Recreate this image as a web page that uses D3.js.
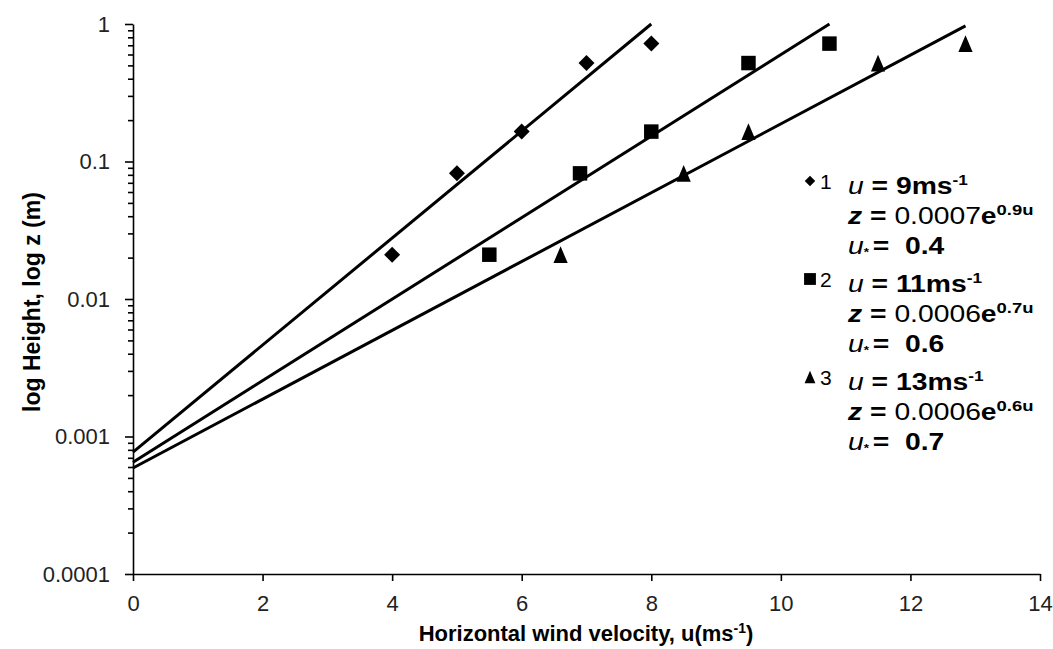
<!DOCTYPE html>
<html><head><meta charset="utf-8">
<script src="https://cdn.jsdelivr.net/npm/d3@7/dist/d3.min.js"></script>
<style>
html,body{margin:0;padding:0;background:#fff;}
svg{display:block;font-family:"Liberation Sans",Arial,sans-serif;}
</style></head>
<body>
<svg id="chart" width="1053" height="649"></svg>
<script>
// ---- data ----
const xTicks = [0, 2, 4, 6, 8, 10, 12, 14];
const yTicks = [0.0001, 0.001, 0.01, 0.1, 1];
const yTickLabels = ["0.0001", "0.001", "0.01", "0.1", "1"];

const series1U = [4, 5, 6, 7, 8];
const series1Z = [0.021, 0.082, 0.165, 0.52, 0.72];
const series2U = [5.5, 6.9, 8, 9.5, 10.75];
const series2Z = [0.021, 0.082, 0.165, 0.52, 0.72];
const series3U = [6.6, 8.5, 9.5, 11.5, 12.85];
const series3Z = [0.021, 0.082, 0.165, 0.52, 0.72];

// fitted exponential lines (straight on log axis): endpoints
const fit1U = [0, 8.0],   fit1Z = [0.00077, 1.0];
const fit2U = [0, 10.75], fit2Z = [0.00065, 1.0];
const fit3U = [0, 12.85], fit3Z = [0.00059, 0.97];

const legendIds = ["1", "2", "3"];
const legendSpeed = ["9", "11", "13"];
const legendCoef = ["0.0007", "0.0006", "0.0006"];
const legendExp = ["0.9u", "0.7u", "0.6u"];
const legendUstar = ["0.4", "0.6", "0.7"];

// ---- drawing ----
const svg = d3.select("#chart");
const x = d3.scaleLinear().domain([0, 14]).range([133, 1040]);
const y = d3.scaleLog().domain([1e-4, 1]).range([574, 24]);

// custom symbols centred on bounding box
const diamond = { draw(ctx, size) { const h = Math.sqrt(size) / 2; ctx.moveTo(0, -h); ctx.lineTo(h, 0); ctx.lineTo(0, h); ctx.lineTo(-h, 0); ctx.closePath(); } };
const square = { draw(ctx, size) { const h = Math.sqrt(size) / 2; ctx.rect(-h, -h, 2 * h, 2 * h); } };
const triangle = { draw(ctx, size) { const h = Math.sqrt(size) / 2; const w = h * 0.85; ctx.moveTo(0, -h); ctx.lineTo(w, h); ctx.lineTo(-w, h); ctx.closePath(); } };

// axes
const xAxis = d3.axisBottom(x).tickValues(xTicks).tickSize(7).tickSizeOuter(0).tickPadding(14).tickFormat(d3.format("d"));
const gx = svg.append("g").attr("transform", "translate(0,574)").call(xAxis);
gx.selectAll("text").attr("font-size", 22).attr("fill", "#222").attr("font-family", "Liberation Sans, Arial, sans-serif");

const minor = [];
for (let e = -4; e < 0; e++) for (let m = 2; m <= 9; m++) minor.push(m * Math.pow(10, e));
const gyMinor = svg.append("g").attr("transform", "translate(133,0)")
  .call(d3.axisLeft(y).tickValues(minor).tickSize(5).tickSizeOuter(0).tickFormat(""));
gyMinor.select(".domain").remove();

const yAxis = d3.axisLeft(y).tickValues(yTicks).tickSize(8).tickSizeOuter(0).tickPadding(15)
  .tickFormat((d, i) => yTickLabels[i]);
const gy = svg.append("g").attr("transform", "translate(133,0)").call(yAxis);
gy.selectAll("text").attr("font-size", 22).attr("fill", "#222").attr("font-family", "Liberation Sans, Arial, sans-serif");

svg.selectAll(".domain, .tick line").attr("stroke", "#000").attr("stroke-width", 1.6);

// fit lines
const line = d3.line().x(d => x(d[0])).y(d => y(d[1]));
[[fit1U, fit1Z], [fit2U, fit2Z], [fit3U, fit3Z]].forEach(([us, zs]) => {
  svg.append("path").attr("d", line(us.map((u, i) => [u, zs[i]])))
    .attr("fill", "none").attr("stroke", "#000").attr("stroke-width", 3);
});

// points
function drawPoints(us, zs, type, size) {
  svg.append("g").selectAll("path").data(us.map((u, i) => [u, zs[i]])).join("path")
    .attr("transform", d => `translate(${x(d[0])},${y(d[1])})`)
    .attr("d", d3.symbol().type(type).size(size)).attr("fill", "#000");
}
drawPoints(series1U, series1Z, diamond, 256);
drawPoints(series2U, series2Z, square, 210);
drawPoints(series3U, series3Z, triangle, 280);

// axis titles
svg.append("text").attr("x", 586).attr("y", 641).attr("text-anchor", "middle")
  .attr("font-size", 22).attr("font-weight", "bold")
  .call(t => { t.append("tspan").text("Horizontal wind velocity, u(ms");
               t.append("tspan").attr("font-size", 14).attr("dy", -8).text("-1");
               t.append("tspan").attr("dy", 8).text(")"); });
svg.append("text").attr("transform", "translate(40,302) rotate(-90)").attr("text-anchor", "middle")
  .attr("font-size", 23).attr("font-weight", "bold").text("log Height, log z (m)");

// legend
const legTypes = [diamond, square, triangle];
const legSizes = [110, 140, 160];
const legTop = [181, 279, 377];
legTop.forEach((my, i) => {
  const g = svg.append("g");
  g.append("path").attr("transform", `translate(810,${my})`)
    .attr("d", d3.symbol().type(legTypes[i]).size(legSizes[i])).attr("fill", "#000");
  g.append("text").attr("x", 820).attr("y", my + 8).attr("font-size", 21).text(legendIds[i]);
  const b = my + 13;
  const tg = g.append("g").attr("transform", "translate(848,0) scale(1.23,1)");
  const t1 = tg.append("text").attr("x", 0).attr("y", b).attr("font-size", 23).attr("font-weight", "bold").attr("xml:space", "preserve");
  t1.append("tspan").attr("font-style", "italic").attr("font-weight", "normal").text("u");
  t1.append("tspan").text(" = " + legendSpeed[i] + "ms");
  t1.append("tspan").attr("font-size", 14).attr("dy", -9).text("-1");
  const t2 = tg.append("text").attr("x", 0).attr("y", b + 30).attr("font-size", 23).attr("font-weight", "bold").attr("xml:space", "preserve");
  t2.append("tspan").attr("font-style", "italic").text("z");
  t2.append("tspan").text(" = ");
  t2.append("tspan").attr("font-weight", "normal").text(legendCoef[i]);
  t2.append("tspan").text("e");
  t2.append("tspan").attr("font-size", 15).attr("dy", -9).text(legendExp[i]);
  const t3 = tg.append("text").attr("x", 0).attr("y", b + 60).attr("font-size", 23).attr("font-weight", "bold").attr("xml:space", "preserve");
  t3.append("tspan").attr("font-style", "italic").attr("font-weight", "normal").text("u");
  t3.append("tspan").attr("font-size", 11).attr("dy", 2).text("*");
  t3.append("tspan").attr("dy", -2).attr("dx", 3).text("=  " + legendUstar[i]);
});
</script>
</body></html>
